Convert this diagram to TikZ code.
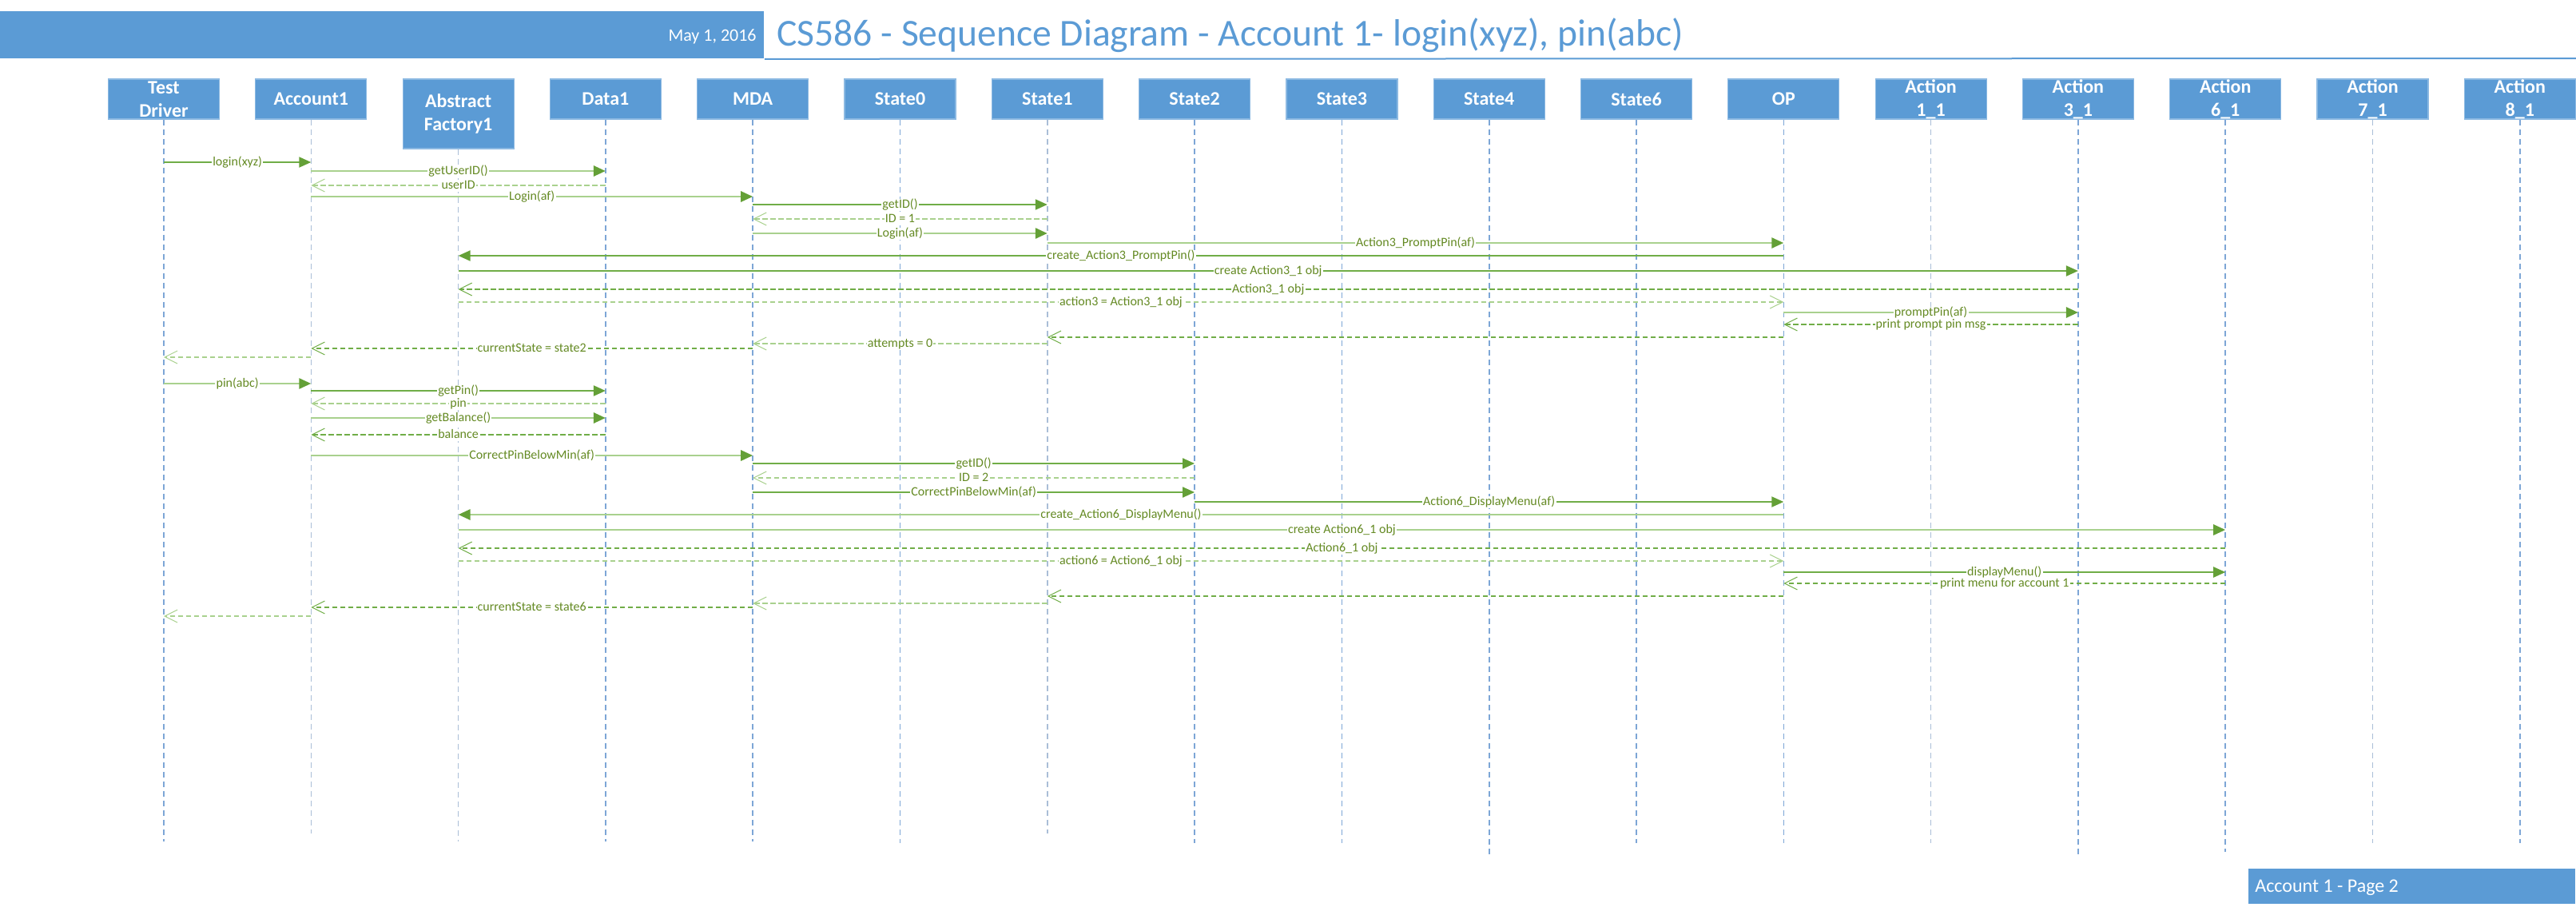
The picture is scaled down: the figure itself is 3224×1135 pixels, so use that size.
\documentclass[tikz,border=0pt]{standalone}
\usepackage{fontspec}
\setmainfont{Carlito}
\usetikzlibrary{arrows.meta}
\definecolor{barblue}{RGB}{91,155,213}
\definecolor{lifeblue}{RGB}{125,166,214}
\definecolor{lifepale}{RGB}{170,190,215}
\definecolor{gdk}{RGB}{112,173,71}
\definecolor{glt}{RGB}{169,209,142}
\definecolor{ag}{RGB}{100,160,55}
\definecolor{lbltxt}{RGB}{100,138,35}
\newcommand\seqmsg[5]{\draw[#1] (#2 |- 0,#4) -- node[lbl]{#5} (#3 |- 0,#4);}
\newcommand\seqmsgn[4]{\draw[#1] (#2 |- 0,#4) -- (#3 |- 0,#4);}
\begin{document}
\begin{tikzpicture}[x=0.5pt,y=-0.5pt,
  hbox/.style={fill=barblue,draw=barblue!70!white,line width=0.6pt,minimum width=69.5pt,minimum height=25pt,inner sep=0pt},
  htxt/.style={text=white,align=center,inner sep=0pt,font=\fontsize{12}{14.5}\selectfont\bfseries},
  life/.style={draw=lifeblue,line width=0.8pt,dash pattern=on 3.5pt off 2.5pt},
  pale/.style={draw=lifepale},
  lbl/.style={fill=white,inner xsep=0.6pt,inner ysep=0pt,text=lbltxt,font=\fontsize{8}{9}\selectfont,text height=6pt,text depth=1.5pt},
  fa/.style={-{Triangle[length=7.5pt,width=6.5pt,color=ag]}},
  oa/.style={-{Straight Barb[length=8pt,width=8pt,line width=0.5pt]}},
  sdk/.style={draw=gdk,line width=1pt,fa},
  slt/.style={draw=glt,line width=1.4pt,fa},
  ddk/.style={draw=gdk,line width=1pt,dash pattern=on 3.25pt off 1.75pt,oa},
  dlt/.style={draw=glt,line width=1.4pt,dash pattern=on 3.25pt off 1.75pt,oa}]
\useasboundingbox (0,0) rectangle (3224,1135);
% title bar
\node[fill=barblue,minimum width=478pt,minimum height=29.5pt,inner sep=0pt,anchor=north west] (bar) at (0,14) {};
\node[anchor=base east,text=white,inner sep=0pt,font=\fontsize{11}{13}\selectfont] (date) at (947,51) {May 1, 2016};
\node[anchor=base west,text=barblue,inner sep=0pt,font=\fontsize{23.8}{28}\selectfont] (title) at (972,57) {CS586 - Sequence Diagram - Account 1- login(xyz), pin(abc)};
\coordinate (tlend) at (3224,73);
\draw[barblue,line width=1pt] (bar.south east) -- (tlend);
% headers
\node[hbox] (td) at (205,124) {};
\node[htxt] (tdt) at (td) {Test\\Driver};
\node[hbox] (acc) at (389.3,124) {};
\node[htxt] (acct) at (acc) {Account1};
\node[hbox,minimum height=43.5pt] (af) at (573.6,142.5) {};
\node[htxt] (aft) at (af) {Abstract\\Factory1};
\node[hbox] (data) at (757.9,124) {};
\node[htxt] (datat) at (data) {Data1};
\node[hbox] (mda) at (942.2,124) {};
\node[htxt] (mdat) at (mda) {MDA};
\node[hbox] (s0) at (1126.5,124) {};
\node[htxt] (s0t) at (s0) {State0};
\node[hbox] (s1) at (1310.8,124) {};
\node[htxt] (s1t) at (s1) {State1};
\node[hbox] (s2) at (1495.1,124) {};
\node[htxt] (s2t) at (s2) {State2};
\node[hbox] (s3) at (1679.4,124) {};
\node[htxt] (s3t) at (s3) {State3};
\node[hbox] (s4) at (1863.7,124) {};
\node[htxt] (s4t) at (s4) {State4};
\node[hbox] (s6) at (2048,124) {};
\node[htxt] (s6t) at (s6) {State6};
\node[hbox] (op) at (2232.3,124) {};
\node[htxt] (opt) at (op) {OP};
\node[hbox] (a11) at (2416.6,124) {};
\node[htxt] (a11t) at (a11) {Action\\1\_1};
\node[hbox] (a31) at (2600.9,124) {};
\node[htxt] (a31t) at (a31) {Action\\3\_1};
\node[hbox] (a61) at (2785.2,124) {};
\node[htxt] (a61t) at (a61) {Action\\6\_1};
\node[hbox] (a71) at (2969.5,124) {};
\node[htxt] (a71t) at (a71) {Action\\7\_1};
\node[hbox] (a81) at (3153.8,124) {};
\node[htxt] (a81t) at (a81) {Action\\8\_1};
% lifelines
\foreach \n/\e in {td/1053,data/1053,mda/1053,s0/1055,s2/1055,s3/1055,s4/1070,s6/1055,op/1055,a31/1070,a61/1066,a81/1055}
  {\draw[life] (\n.south) -- (\n |- 0,\e);}
\foreach \n/\e in {acc/1043,af/1053,s1/1043,a11/1055,a71/1055}
  {\draw[life,pale] (\n.south) -- (\n |- 0,\e);}
% messages - login
\seqmsg{sdk}{td}{acc}{203}{login(xyz)}
\seqmsg{slt}{acc}{data}{214}{getUserID()}
\seqmsg{dlt}{data}{acc}{232}{userID}
\seqmsg{slt}{acc}{mda}{246}{Login(af)}
\seqmsg{sdk}{mda}{s1}{256}{getID()}
\seqmsg{dlt}{s1}{mda}{274}{ID = 1}
\seqmsg{slt}{mda}{s1}{292}{Login(af)}
\seqmsg{slt}{s1}{op}{304}{Action3\_PromptPin(af)}
\seqmsg{sdk}{op}{af}{320}{create\_Action3\_PromptPin()}
\seqmsg{sdk}{af}{a31}{339}{create Action3\_1 obj}
\seqmsg{ddk}{a31}{af}{362}{Action3\_1 obj}
\seqmsg{dlt}{af}{op}{378}{action3 = Action3\_1 obj}
\seqmsg{slt}{op}{a31}{391}{promptPin(af)}
\seqmsg{ddk}{a31}{op}{406}{print prompt pin msg}
\seqmsgn{ddk}{op}{s1}{422}
\seqmsg{dlt}{s1}{mda}{430}{attempts = 0}
\seqmsg{ddk}{mda}{acc}{436}{currentState = state2}
\seqmsgn{dlt}{acc}{td}{447}
% messages - pin
\seqmsg{slt}{td}{acc}{480}{pin(abc)}
\seqmsg{sdk}{acc}{data}{489}{getPin()}
\seqmsg{dlt}{data}{acc}{505}{pin}
\seqmsg{slt}{acc}{data}{523}{getBalance()}
\seqmsg{ddk}{data}{acc}{544}{balance}
\seqmsg{slt}{acc}{mda}{570}{CorrectPinBelowMin(af)}
\seqmsg{sdk}{mda}{s2}{580}{getID()}
\seqmsg{dlt}{s2}{mda}{598}{ID = 2}
\seqmsg{sdk}{mda}{s2}{616}{CorrectPinBelowMin(af)}
\seqmsg{sdk}{s2}{op}{628}{Action6\_DisplayMenu(af)}
\seqmsg{slt}{op}{af}{644}{create\_Action6\_DisplayMenu()}
\seqmsg{slt}{af}{a61}{663}{create Action6\_1 obj}
\seqmsg{ddk}{a61}{af}{686}{Action6\_1 obj}
\seqmsg{dlt}{af}{op}{702}{action6 = Action6\_1 obj}
\seqmsg{sdk}{op}{a61}{716}{displayMenu()}
\seqmsg{ddk}{a61}{op}{730}{print menu for account 1}
\seqmsgn{ddk}{op}{s1}{746}
\seqmsgn{dlt}{s1}{mda}{755}
\seqmsg{ddk}{mda}{acc}{760}{currentState = state6}
\seqmsgn{dlt}{acc}{td}{771}
% footer
\node[fill=barblue,minimum width=204.5pt,minimum height=22pt,inner sep=0pt,anchor=north west] (foot) at (2814,1087) {};
\node[anchor=base west,text=white,inner sep=0pt,font=\fontsize{12}{14}\selectfont] (foott) at (2822,1116) {Account 1 - Page 2};
\end{tikzpicture}
\end{document}
